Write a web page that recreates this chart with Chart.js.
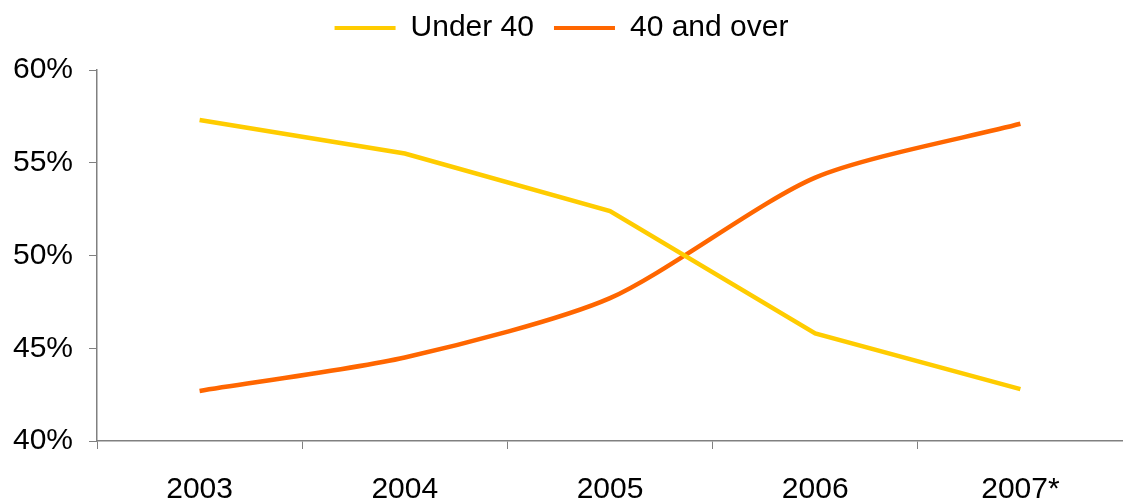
<!DOCTYPE html>
<html>
<head>
<meta charset="utf-8">
<script src="https://cdn.jsdelivr.net/npm/chart.js@4/dist/chart.umd.min.js"></script>
<style>
  html, body { margin: 0; padding: 0; background: #fff; }
  #wrap { width: 1123px; height: 499px; }
</style>
</head>
<body>
<div id="wrap"><canvas id="lineChart"></canvas></div>
<script>
const years = ["2003", "2004", "2005", "2006", "2007*"];
const under40 = [57.3, 55.5, 52.4, 45.8, 42.8];
const over40 = [42.7, 44.5, 47.7, 54.2, 57.1];

const axisGrey = "#808080";
const font = { family: "'Liberation Sans', Arial, sans-serif", size: 30 };

// push the plot down a little below the legend
const legendGap = {
  id: "legendGap",
  beforeInit(chart) {
    const fit = chart.legend.fit;
    chart.legend.fit = function () {
      fit.bind(chart.legend)();
      this.height += 17;
    };
  },
};

const ctx = document.getElementById("lineChart");
const chart = new Chart(ctx, {
  type: "line",
  data: {
    labels: years,
    datasets: [
      {
        label: "Under 40",
        data: under40,
        borderColor: "#FFCC00",
        backgroundColor: "#FFCC00",
        borderWidth: 4.5,
        pointRadius: 0,
        tension: 0,
      },
      {
        label: "40 and over",
        data: over40,
        borderColor: "#FF6600",
        backgroundColor: "#FF6600",
        borderWidth: 4.5,
        pointRadius: 0,
        tension: 0.25,
      },
    ],
  },
  options: {
    responsive: true,
    maintainAspectRatio: false,
    animation: false,
    layout: { padding: { top: -7, right: 0, left: 0, bottom: 0 } },
    plugins: {
      legend: {
        position: "top",
        labels: {
          boxWidth: 61,
          boxHeight: 4,
          padding: 20,
          color: "#000",
          font: font,
          generateLabels: (c) =>
            Chart.defaults.plugins.legend.labels.generateLabels(c).map((l) => {
              l.lineWidth = 0;
              return l;
            }),
        },
      },
      tooltip: { enabled: false },
    },
    scales: {
      x: {
        offset: true,
        grid: {
          offset: true,
          drawOnChartArea: false,
          tickLength: 8,
          color: axisGrey,
        },
        border: { color: axisGrey, width: 1.5 },
        ticks: { color: "#000", font: font, padding: 23, maxRotation: 0 },
        afterFit: (scale) => { scale.height = 58; },
      },
      y: {
        min: 40,
        max: 60,
        grid: {
          drawOnChartArea: false,
          tickLength: 8,
          color: axisGrey,
        },
        border: { color: axisGrey, width: 1.5 },
        ticks: {
          stepSize: 5,
          color: "#000",
          font: font,
          padding: 16,
          callback: (v) => v + "%",
        },
        afterFit: (scale) => { scale.width = 97; },
      },
    },
  },
  plugins: [legendGap],
});
</script>
</body>
</html>
